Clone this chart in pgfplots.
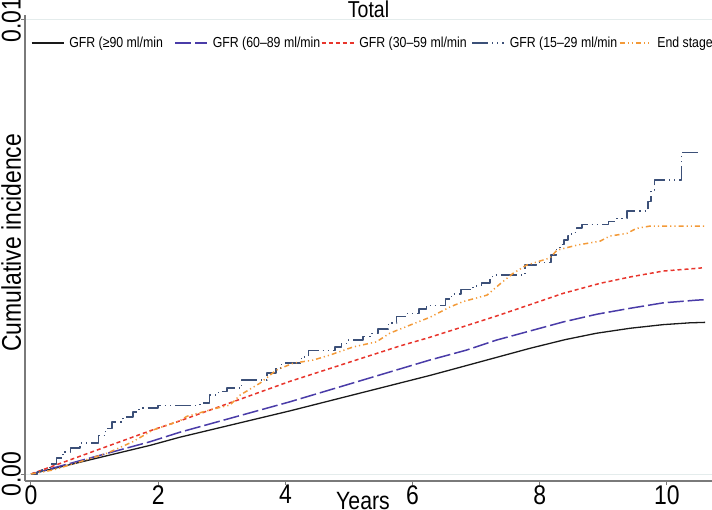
\documentclass[border=0pt]{standalone}
\usepackage{fontspec}
\setmainfont{Liberation Sans}[FakeStretch=0.85]
\usepackage{pgfplots}
\pgfplotsset{compat=1.18}
\definecolor{cblack}{HTML}{1A1A1A}
\definecolor{cblue}{HTML}{4A3CA8}
\definecolor{cred}{HTML}{E8352C}
\definecolor{cnavy}{HTML}{3C5078}
\definecolor{corange}{HTML}{F39A38}
\definecolor{axgray}{HTML}{7A7A7A}
\definecolor{gridc}{HTML}{E4ECEC}
\begin{document}
\begin{tikzpicture}
\useasboundingbox (-25bp,-29bp) rectangle (687bp,481bp);
\begin{axis}[
  at={(0,0)}, anchor=south west,
  scale only axis, width=687bp, height=466bp,
  xmin=-0.0943, xmax=10.708, ymin=-0.000154, ymax=0.01011,
  axis x line=bottom, axis y line=left,
  axis line style={-, draw=axgray, line width=1.6bp},
  xtick={0,2,4,6,8,10}, ytick={0,0.01},
  xticklabels={0,2,4,6,8,10}, yticklabels={0.00,0.01},
  scaled y ticks=false, scaled x ticks=false,
  tick align=outside, major tick length=4bp,
  tick style={draw=axgray, line width=1bp},
  ymajorgrids, grid style={draw=gridc, line width=1bp},
  /pgf/number format/assume math mode=true,
  xticklabel style={anchor=north, inner sep=0pt, font=\fontsize{27bp}{30bp}\selectfont},
  yticklabel style={rotate=90, anchor=south, inner sep=0pt, font=\fontsize{27bp}{30bp}\selectfont},
  title={Total},
  every axis title/.style={at={(axis description cs:0.5,1)}, anchor=base, yshift=-3bp, inner sep=0pt, font=\fontsize{23bp}{26bp}\selectfont},
  xlabel={Years},
  every axis x label/.style={at={(axis description cs:0.492,0)}, anchor=base, yshift=-28bp, inner sep=0pt, font=\fontsize{25bp}{28bp}\selectfont},
  ylabel={Cumulative incidence},
  every axis y label/.style={at={(axis description cs:0,0.511)}, xshift=-24bp, rotate=90, anchor=north, inner sep=0pt, font=\fontsize{27bp}{30bp}\selectfont},
  legend columns=5,
  legend image code/.code={\draw[#1] (0bp,0bp) -- (32bp,0bp);},
  legend style={at={(axis description cs:0.00873,0.9399)}, anchor=west, draw=none, fill=none,
    inner sep=0pt, outer sep=0pt, nodes={inner sep=0pt}, cells={anchor=west},
    font=\fontsize{14.5bp}{16bp}\selectfont,
    /tikz/every odd column/.append style={column sep=5bp}},
  line join=round,
]
\addplot[cblack, line width=1.3bp] coordinates {
(0,0) (1.87,0.00063) (2.34,0.00081) (4.07,0.00139) (6.27,0.00217) (6.64,0.00231)
(7.85,0.00277) (8.4,0.00296) (8.89,0.00310) (9.42,0.00321) (9.94,0.00329) (10.36,0.00333) (10.6,0.00334)};
\addlegendentry{\makebox[105bp][l]{GFR (≥90 ml/min}}
\addplot[cblue, line width=1.5bp, dash pattern=on 16bp off 4bp] coordinates {
(0,0) (1.87,0.00071) (2.34,0.00092) (4.07,0.00159) (6.27,0.00251) (6.85,0.00273)
(7.32,0.00295) (8.37,0.00335) (8.9,0.00352) (9.42,0.00365) (9.94,0.00377) (10.47,0.00383) (10.6,0.00384)};
\addlegendentry{\makebox[108bp][l]{GFR (60–89 ml/min}}
\addplot[cred, line width=1.5bp, dash pattern=on 4bp off 3bp] coordinates {
(0,0) (1.87,0.00095) (2.34,0.00117) (4.07,0.00204) (5.8,0.00282) (6.27,0.00301)
(7.32,0.00348) (8.37,0.00398) (8.95,0.00420) (9.42,0.00434) (9.94,0.00447) (10.47,0.00453) (10.55,0.00454)};
\addlegendentry{\makebox[112bp][l]{GFR (30–59 ml/min}}
\addplot[cnavy, line width=1.5bp, const plot, dash pattern=on 16bp off 4bp on 1.2bp off 4bp on 1.2bp off 4bp] coordinates {
(0,0) (0.10,0.00005) (0.17,0.00009) (0.30,0.00022) (0.40,0.00035) (0.50,0.00049)
(0.62,0.00057) (0.77,0.00068) (1.06,0.00085) (1.17,0.00100) (1.27,0.00115) (1.45,0.00126)
(1.60,0.00137) (1.70,0.00145) (2.00,0.00151) (2.66,0.00156) (2.81,0.00174) (2.95,0.00182)
(3.08,0.00189) (3.31,0.00207) (3.71,0.00222) (3.85,0.00233) (3.94,0.00244) (4.25,0.00258)
(4.36,0.00272) (4.78,0.00280) (4.88,0.00288) (4.99,0.00295) (5.22,0.00303) (5.36,0.00310)
(5.46,0.00319) (5.62,0.00333) (5.75,0.00347) (5.91,0.00354) (6.10,0.00363) (6.22,0.00371)
(6.52,0.00385) (6.61,0.00397) (6.76,0.00406) (6.95,0.00414) (7.08,0.00421) (7.22,0.00431)
(7.26,0.00438) (7.77,0.00460) (7.95,0.00466) (8.18,0.00482) (8.26,0.00495) (8.32,0.00505)
(8.38,0.00515) (8.44,0.00524) (8.50,0.00532) (8.58,0.00542) (8.66,0.00550) (9.08,0.00556)
(9.21,0.00563) (9.37,0.00579) (9.70,0.00600) (9.75,0.00625) (9.80,0.00648) (10.23,0.00708)
(10.55,0.00708)};
\addlegendentry{\makebox[109bp][l]{GFR (15–29 ml/min}}
\addplot[corange, line width=1.5bp, dash pattern=on 5bp off 3bp on 1.2bp off 3bp on 1.2bp off 3bp] coordinates {
(0,0) (0.35,0.00009) (0.77,0.00027) (1.2,0.00046) (1.6,0.00071) (1.92,0.00097)
(2.34,0.00117) (2.45,0.00127) (2.92,0.00145) (3.13,0.00152) (3.29,0.00174) (3.6,0.00200)
(3.86,0.00229) (4.12,0.00244) (4.44,0.00251) (4.70,0.00262) (5.07,0.00280) (5.43,0.00291)
(5.64,0.00310) (5.96,0.00328) (6.27,0.00345) (6.59,0.00368) (6.8,0.00380) (7.17,0.00394)
(7.37,0.00418) (7.58,0.00442) (7.79,0.00460) (8.0,0.00469) (8.16,0.00476) (8.27,0.00493)
(8.58,0.00504) (8.95,0.00513) (9.1,0.00524) (9.37,0.00530) (9.52,0.00541) (9.73,0.00546)
(10.6,0.00546)};
\addlegendentry{End stage}
\end{axis}
\end{tikzpicture}
\end{document}
